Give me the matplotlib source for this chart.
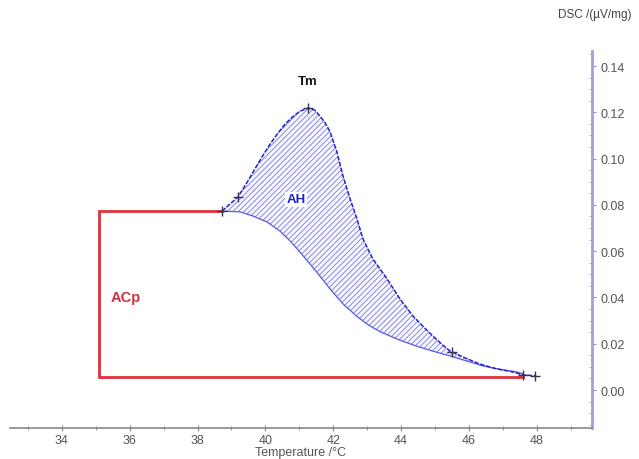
import matplotlib
matplotlib.use("Agg")
import matplotlib.pyplot as plt
from matplotlib.ticker import MultipleLocator

# ---- data ----
peak_T = [38.72, 39.19, 39.45, 39.69, 39.92, 40.14, 40.36, 40.58, 40.80, 41.02, 41.26,
          41.45, 41.61, 41.76, 41.91, 42.11, 42.29, 42.50, 42.70, 42.88, 43.17,
          43.59, 43.97, 44.35, 44.65, 44.94, 45.20, 45.45, 45.90, 46.33,
          46.80, 47.30, 47.60, 47.95]
peak_v = [0.0773, 0.0834, 0.0895, 0.0955, 0.1012, 0.1063, 0.1108, 0.1149, 0.1180, 0.1205, 0.1218,
          0.1210, 0.1184, 0.1155, 0.1115, 0.1028, 0.0924, 0.0825, 0.0739, 0.0652, 0.0566,
          0.0480, 0.0393, 0.0320, 0.0275, 0.0233, 0.0198, 0.0168, 0.0138, 0.0112,
          0.0092, 0.0078, 0.0065, 0.0062]

base_T = [38.72, 39.25, 39.63, 40.05, 40.43, 40.73, 41.02, 41.32, 41.61, 41.91, 42.29,
          42.70, 43.05, 43.38, 43.97, 44.45, 44.94, 45.45, 45.95, 46.42, 46.90, 47.42, 47.60]
base_v = [0.0773, 0.0770, 0.0752, 0.0726, 0.0687, 0.0644, 0.0596, 0.0544, 0.0492, 0.0436, 0.0372,
          0.0318, 0.0280, 0.0252, 0.0215, 0.0190, 0.0168, 0.0147, 0.0125, 0.0104, 0.0090, 0.0078, 0.0070]

acp_T = [38.72, 35.09, 35.09, 47.60]
acp_v = [0.0773, 0.0773, 0.0056, 0.0056]

marker_T = [38.72, 39.19, 41.26, 45.50, 47.60, 47.95]
marker_v = [0.0773, 0.0834, 0.1218, 0.0166, 0.0065, 0.0062]

xticks = [34, 36, 38, 40, 42, 44, 46, 48]
yticks = [0.00, 0.02, 0.04, 0.06, 0.08, 0.10, 0.12, 0.14]

plt.rcParams['font.family'] = ['Liberation Sans', 'DejaVu Sans']
plt.rcParams['hatch.linewidth'] = 0.6

# ---- figure ----
fig = plt.figure(figsize=(6.39, 4.60), dpi=100)
ax = fig.add_axes([10/639, 31/460, 582/639, 377/460])
ax.set_xlim(32.47, 49.63)
ax.set_ylim(-0.0164, 0.1465)

# hatched area (ΔH)
poly_T = peak_T + base_T[::-1]
poly_v = peak_v + base_v[::-1]
ax.fill(poly_T, poly_v, facecolor='#f6f6ff', edgecolor='#7a7ae6', hatch='//////', linewidth=0)

ax.plot(base_T, base_v, color='#5a5ade', lw=0.9)
ax.plot(peak_T, peak_v, color='#2424c8', lw=1.1, ls=(0, (3, 1)))
ax.plot(acp_T, acp_v, color='#e0303c', lw=2.0, solid_joinstyle='miter')
ax.plot(marker_T, marker_v, ls='none', marker='+', ms=7, mew=1.0, color='#333355')

ax.text(41.26, 0.1335, 'Tm', fontsize=9.5, fontweight='bold', color='#111111',
        ha='center', va='center')
ax.text(40.9, 0.0825, 'AH', fontsize=9.5, fontweight='bold', color='#2020cc',
        ha='center', va='center', bbox=dict(facecolor='white', edgecolor='none', pad=1))
ax.text(35.45, 0.0400, 'ACp', fontsize=10.5, fontweight='bold', color='#d03040',
        ha='left', va='center')

# axes styling
for s in ['left', 'top']:
    ax.spines[s].set_visible(False)
ax.spines['bottom'].set_color('#888888')
ax.spines['bottom'].set_linewidth(1.2)
ax.spines['right'].set_color('#a0a0dc')
ax.spines['right'].set_linewidth(2.0)

ax.yaxis.tick_right()
ax.set_xticks(xticks)
ax.set_xticklabels([str(t) for t in xticks])
ax.xaxis.set_minor_locator(MultipleLocator(1))
ax.set_yticks(yticks)
ax.set_yticklabels(['%.2f' % t for t in yticks])
ax.yaxis.set_minor_locator(MultipleLocator(0.005))

ax.tick_params(axis='x', which='both', direction='inout', length=4, color='#888888',
               labelsize=9, labelcolor='#555555', pad=2)
ax.tick_params(axis='x', which='minor', length=3)
ax.tick_params(axis='y', which='major', direction='out', length=3, color='#9090c0',
               labelsize=9, labelcolor='#555555', pad=3)
ax.tick_params(axis='y', which='minor', direction='in', length=2, color='#a0a0dc')

ax.set_xlabel('Temperature /°C', fontsize=9, color='#555555', labelpad=0)
fig.text(0.931, 0.967, 'DSC /(µV/mg)', fontsize=8.5, color='#444444', ha='center', va='center')

fig.savefig('out.png', dpi=100, facecolor='white')
